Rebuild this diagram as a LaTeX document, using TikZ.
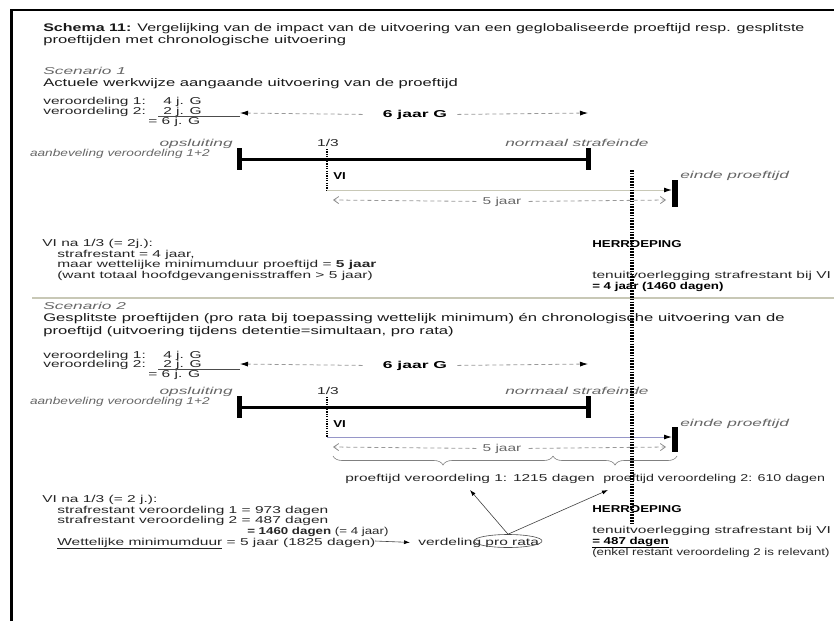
\documentclass[tikz,border=0pt]{standalone}
\usepackage{fontspec}
\setmainfont{Liberation Sans}
\usetikzlibrary{arrows.meta,decorations.pathreplacing,shapes.geometric,positioning}
\definecolor{olijfgrijs}{RGB}{200,200,182}
\definecolor{lavendel}{RGB}{150,150,200}
\tikzset{
  basis/.style={inner sep=0pt, anchor=base west},
  tekst/.style={basis, font=\fontsize{10}{12}\selectfont, text=black!85, xscale=1.55},
  kop/.style={basis, font=\fontsize{11}{13}\selectfont, text=black!90, xscale=1.51},
  schuin/.style={basis, font=\fontsize{10}{12}\selectfont\itshape, text=black!60, xscale=1.73},
  vet/.style={basis, font=\fontsize{10}{12}\selectfont\bfseries, text=black, xscale=1.33},
  groot/.style={basis, font=\fontsize{10}{12}\selectfont\bfseries, text=black, xscale=1.75, anchor=base},
  tijdlijn/.style={line width=3pt},
  balk/.style={line width=5.5pt},
  stippel/.style={line width=2.5pt, dash pattern=on 1.2pt off 1.2pt},
  herrlijn/.style={line width=3.5pt, dash pattern=on 1.6pt off 1.2pt},
  streep/.style={black!40, line width=0.8pt, dash pattern=on 4pt off 3pt},
  zwartpunt/.style={-{Latex[black,length=8pt,width=5pt]}},
  openpunt/.style={-{Straight Barb[black!45,length=5pt,width=7pt]}},
  pijl/.style={black!75, line width=0.6pt, -{Latex[black,length=6pt,width=4pt]}},
  accolade/.style={black!50, line width=0.6pt, decorate, decoration={brace, mirror, amplitude=9pt}},
  scheiding/.style={olijfgrijs, line width=1.5pt}
}
\begin{document}
\begin{tikzpicture}[x=1pt,y=-1pt]
                \useasboundingbox (0,0) rectangle (834,621);
                \clip (0,0) rectangle (834,621);
                % kader
                \draw[line width=2.5pt] (11.5,621) -- (11.5,10) -- (834,10);
                \node[kop, xscale=0.965] (titel1) at (43,31) {\textbf{Schema 11:} Vergelijking van de impact van de uitvoering van een geglobaliseerde proeftijd resp. gesplitste};
                \node[kop] (titel2) at (43,43) {proeftijden met chronologische uitvoering};
                % scenario 1
                \node[schuin] (sc1) at (43,74) {Scenario 1};
                \node[kop] (sc1tit) at (43,86) {Actuele werkwijze aangaande uitvoering van de proeftijd};
                \node[tekst] (s1v1) at (43,104) {veroordeling 1:};
                \node[tekst] (s1v1j) at (163,104) {4 j. G};
                \node[tekst] (s1v2) at (43,114) {veroordeling 2:};
                \node[tekst] (s1v2j) at (163,114) {2 j. G};
                \node[tekst] (s1som) at (148,124) {= 6 j. G};
                \draw[black!70, line width=0.8pt] (158,116.5) -- (240,116.5);
                \node[groot] (s1zes) at (415,117) {6 jaar G};
                \coordinate (s1zesL) at (240,113);
                \coordinate (s1zesR) at (588,113);
                \draw[streep, zwartpunt] ([xshift=-20pt]s1zes.west) -- (s1zesL);
                \draw[streep, zwartpunt] ([xshift=10pt]s1zes.east) -- (s1zesR);
                \node[schuin, anchor=base east] (s1ops) at (233,146) {opsluiting};
                \node[schuin, anchor=base east, xscale=0.79] (s1aanb) at (210,156) {aanbeveling veroordeling 1+2};
                \node[tekst, anchor=base] (s1derde) at (328,146) {1/3};
                \node[schuin] (s1norm) at (505,146) {normaal strafeinde};
                \coordinate (s1op) at (239.5,159);
                \coordinate (s1eind) at (588.5,159);
                \draw[tijdlijn] (s1op) -- (s1eind);
                \draw[balk] (239.5,148) -- (239.5,170);
                \draw[balk] (588.5,148) -- (588.5,170);
                \coordinate (s1vi) at (327,149);
                \coordinate (s1vionder) at (327,190);
                \draw[stippel] (s1vi) -- (s1vionder);
                \node[vet] (s1vitxt) at (333,179) {VI};
                \coordinate (s1proef) at (672,190);
                \draw[olijfgrijs, line width=1pt, zwartpunt] (s1vionder) -- (s1proef);
                \draw[balk] (675,180) -- (675,207);
                \node[schuin] (s1einde) at (680,178) {einde proeftijd};
                \node[tekst, anchor=base, text=black!60] (s1vijf) at (502,204) {5 jaar};
                \coordinate (s1vijfL) at (333,200);
                \coordinate (s1vijfR) at (666,200);
                \draw[streep, openpunt] ([xshift=-6pt]s1vijf.west) -- (s1vijfL);
                \draw[streep, openpunt] ([xshift=7pt]s1vijf.east) -- (s1vijfR);
                \node[tekst] (s1na) at (42,246) {VI na 1/3 (= 2j.):};
                \node[tekst] (s1rest) at (57,257) {strafrestant = 4 jaar,};
                \node[tekst] (s1maar) at (57,267) {maar wettelijke minimumduur proeftijd = \textbf{5 jaar}};
                \node[tekst] (s1want) at (57,278) {(want totaal hoofdgevangenisstraffen > 5 jaar)};
                \node[vet] (s1herr) at (592,247) {HERROEPING};
                \node[tekst] (s1ten) at (592,278) {tenuitvoerlegging strafrestant bij VI};
                \node[vet] (s1vier) at (592,289) {= 4 jaar (1460 dagen)};
                \draw[scheiding] (32,298) -- (834,298);
                % scenario 2
                \node[schuin] (sc2) at (43,309) {Scenario 2};
                \node[kop] (sc2tit1) at (43,321) {Gesplitste proeftijden (pro rata bij toepassing wettelijk minimum) én chronologische uitvoering van de};
                \node[kop] (sc2tit2) at (43,334) {proeftijd (uitvoering tijdens detentie=simultaan, pro rata)};
                \node[tekst] (s2v1) at (43,358) {veroordeling 1:};
                \node[tekst] (s2v1j) at (163,358) {4 j. G};
                \node[tekst] (s2v2) at (43,367) {veroordeling 2:};
                \node[tekst] (s2v2j) at (163,367) {2 j. G};
                \node[tekst] (s2som) at (148,377) {= 6 j. G};
                \draw[black!70, line width=0.8pt] (158,369.5) -- (240,369.5);
                \node[groot] (s2zes) at (415,368) {6 jaar G};
                \coordinate (s2zesL) at (240,364);
                \coordinate (s2zesR) at (588,364);
                \draw[streep, zwartpunt] ([xshift=-20pt]s2zes.west) -- (s2zesL);
                \draw[streep, zwartpunt] ([xshift=10pt]s2zes.east) -- (s2zesR);
                \node[schuin, anchor=base east] (s2ops) at (233,394) {opsluiting};
                \node[schuin, anchor=base east, xscale=0.79] (s2aanb) at (210,404) {aanbeveling veroordeling 1+2};
                \node[tekst, anchor=base] (s2derde) at (328,394) {1/3};
                \node[schuin] (s2norm) at (505,394) {normaal strafeinde};
                \coordinate (s2op) at (239.5,407);
                \coordinate (s2eind) at (588.5,407);
                \draw[tijdlijn] (s2op) -- (s2eind);
                \draw[balk] (239.5,396) -- (239.5,418);
                \draw[balk] (588.5,396) -- (588.5,418);
                \coordinate (s2vi) at (327,397);
                \coordinate (s2vionder) at (327,437);
                \draw[stippel] (s2vi) -- (s2vionder);
                \node[vet] (s2vitxt) at (333,427) {VI};
                \coordinate (s2proef) at (672,437);
                \draw[lavendel, line width=1pt, zwartpunt] (s2vionder) -- (s2proef);
                \draw[balk] (675,427) -- (675,452);
                \node[schuin] (s2einde) at (680,426) {einde proeftijd};
                \node[tekst, anchor=base, text=black!60] (s2vijf) at (502,451) {5 jaar};
                \coordinate (s2vijfL) at (333,447);
                \coordinate (s2vijfR) at (666,447);
                \draw[streep, openpunt] ([xshift=-6pt]s2vijf.west) -- (s2vijfL);
                \draw[streep, openpunt] ([xshift=7pt]s2vijf.east) -- (s2vijfR);
                \coordinate (acc1) at (333,456);
                \coordinate (acc2) at (553,456);
                \coordinate (acc3) at (677,456);
                \draw[accolade] (acc1) -- (acc2);
                \draw[accolade] (acc2) -- (acc3);
                \node[tekst] (s2pt1) at (345,481) {proeftijd veroordeling 1: 1215 dagen};
                \node[tekst, xscale=0.92] (s2pt2) at (603,481) {proeftijd veroordeling 2: 610 dagen};
                \node[tekst] (s2na) at (42,502) {VI na 1/3 (= 2 j.):};
                \node[tekst] (s2rest1) at (57,513) {strafrestant veroordeling 1 = 973 dagen};
                \node[tekst] (s2rest2) at (57,523) {strafrestant veroordeling 2 = 487 dagen};
                \node[basis, font=\fontsize{10}{12}\selectfont, text=black!85, xscale=1.33] (s2som2) at (247,534) {\textbf{= 1460 dagen} (= 4 jaar)};
                \node[tekst] (s2wet) at (57,545) {\underline{Wettelijke minimumduur} = 5 jaar (1825 dagen)};
                \node[tekst] (s2verd) at (418,545) {verdeling pro rata};
                \coordinate (s2wetpijl) at (375,541);
                \draw[pijl] (s2wetpijl) -- ([xshift=-8pt]s2verd.west);
                \node[draw, ellipse, black!70, line width=0.6pt, minimum width=68pt, minimum height=13pt, inner sep=0pt] (ovaal) at (508,541) {};
                \coordinate (s2pijl1) at (470,490);
                \coordinate (s2pijl2) at (608,490);
                \draw[pijl] (ovaal.north) -- (s2pijl1);
                \draw[pijl] (ovaal.north) -- (s2pijl2);
                \node[vet] (s2herr) at (592,512) {HERROEPING};
                \node[tekst] (s2ten) at (592,533) {tenuitvoerlegging strafrestant bij VI};
                \node[vet] (s2dagen) at (592,544) {\underline{= 487 dagen}};
                \node[basis, font=\fontsize{10}{12}\selectfont, text=black!85, xscale=1.33] (s2enkel) at (592,555) {(enkel restant veroordeling 2 is relevant)};
                % herroeping
                \coordinate (herrboven) at (632,170);
                \coordinate (herronder) at (632,524);
                \draw[herrlijn] (herrboven) -- (herronder);
\end{tikzpicture}
\end{document}
